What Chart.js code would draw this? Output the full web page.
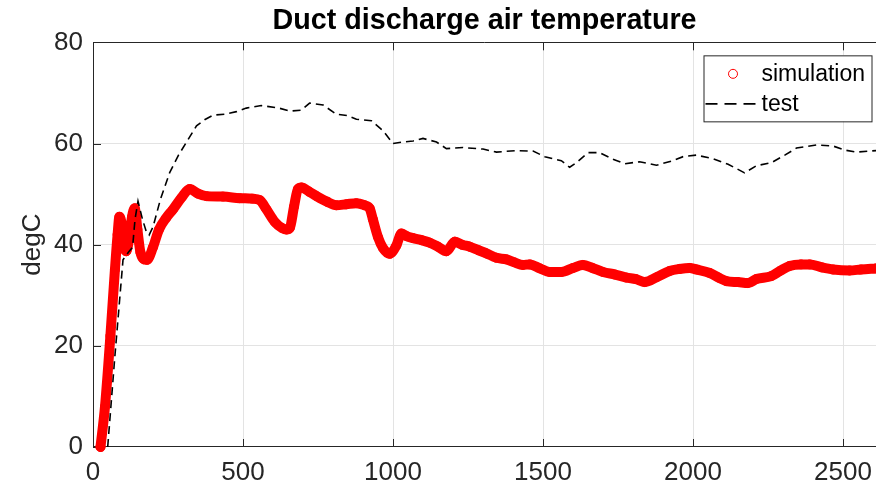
<!DOCTYPE html>
<html>
<head>
<meta charset="utf-8">
<title>Duct discharge air temperature</title>
<script src="https://cdn.jsdelivr.net/npm/chart.js@4.4.1/dist/chart.umd.min.js"></script>
<style>
  html, body { margin: 0; padding: 0; background: #ffffff; }
  #wrap { width: 876px; height: 487px; }
</style>
</head>
<body>
<div id="wrap"><canvas id="ductChart" width="876" height="487"></canvas></div>
<script>
// time in s, temperature in degC
const simTime = [25, 40, 58, 73, 82, 88, 96, 104, 111, 120, 130, 139, 148, 158, 168, 180, 200, 220, 244, 267,
  295, 322, 350, 378, 433, 489, 530, 556, 578, 606, 630, 645, 656, 670, 683, 695, 720, 745, 780, 811,
  845, 878, 905, 922, 933, 950, 967, 989, 1011, 1028, 1045, 1067, 1095, 1122, 1150, 1178, 1206, 1230, 1256, 1285,
  1311, 1345, 1378, 1405, 1433, 1456, 1490, 1522, 1561, 1600, 1633, 1665, 1700, 1740, 1778, 1810, 1839, 1880, 1922, 1955,
  1989, 2011, 2056, 2085, 2111, 2150, 2183, 2211, 2261, 2290, 2322, 2360, 2389, 2430, 2467, 2522, 2560, 2610];
const simTemp = [0, 8, 22, 35, 42, 45.5, 44, 39.5, 38.7, 41, 45.5, 47.2, 43, 38.5, 37.2, 37, 39.5, 43, 45.3, 47,
  49.3, 51, 50.1, 49.6, 49.5, 49.2, 49.1, 48.8, 47, 44.5, 43.3, 43, 43.3, 47.5, 51, 51.3, 50.5, 49.6, 48.5, 47.8,
  48, 48.2, 47.8, 47.2, 45, 41.5, 39.3, 38.2, 39.8, 42.2, 41.7, 41.3, 40.9, 40.4, 39.6, 38.7, 40.6, 40, 39.6, 38.9,
  38.3, 37.4, 37.1, 36.5, 36, 36.1, 35.3, 34.6, 34.6, 35.4, 36, 35.4, 34.6, 34.1, 33.5, 33.2, 32.6, 33.6, 34.8, 35.2,
  35.4, 35.1, 34.4, 33.5, 32.8, 32.6, 32.4, 33.2, 33.8, 34.8, 35.8, 36.1, 36.1, 35.5, 35.1, 34.9, 35.1, 35.3];

const testTime = [49, 73, 100, 118, 132, 140, 150, 165, 178, 187, 200, 225, 256, 285, 311, 345, 372, 400, 440, 478,
  511, 561, 620, 656, 695, 722, 767, 811, 850, 878, 928, 967, 1000, 1033, 1067, 1100, 1145, 1178, 1233, 1300,
  1345, 1411, 1467, 1506, 1561, 1589, 1611, 1650, 1689, 1733, 1772, 1822, 1878, 1933, 1967, 2011, 2067, 2117, 2172, 2211,
  2261, 2306, 2345, 2411, 2467, 2506, 2545, 2610];
const testTemp = [0, 18, 37, 38.5, 39.5, 45, 48.6, 45, 42.5, 41.9, 43.5, 49, 54.3, 57.7, 60.2, 63.5, 64.7, 65.6, 65.8, 66.3,
  67, 67.5, 67, 66.4, 66.6, 68, 67.6, 65.8, 65.5, 64.8, 64.5, 62.5, 60, 60.3, 60.5, 61, 60.3, 59, 59.2, 58.9,
  58.3, 58.6, 58.5, 57.4, 56.6, 55.3, 56.2, 58.2, 58.2, 56.9, 56, 56.4, 55.7, 56.6, 57.4, 57.7, 57, 55.9, 54.2, 55.6,
  56.2, 57.7, 59.1, 59.7, 59.5, 58.7, 58.3, 58.6];

const xTicks = [0, 500, 1000, 1500, 2000, 2500];
const yTicks = [0, 20, 40, 60, 80];
const xMax = 2610;

const FONT = "'Liberation Sans', Arial, Helvetica, sans-serif";
const AXIS = "#262626";

function toPoints(xs, ys) {
  return xs.map((x, i) => ({ x: x, y: ys[i] }));
}

// no extra room around the plot for overhanging tick labels
function noScalePadding(s) {
  s.paddingLeft = 0;
  s.paddingRight = 0;
  s.paddingTop = 0;
  s.paddingBottom = 0;
}

// box outline on top and inward tick marks, like a boxed axes
const boxTicks = {
  id: "boxTicks",
  beforeDatasetsDraw(chart) {
    const { ctx, chartArea: a, scales: { x, y } } = chart;
    ctx.save();
    ctx.strokeStyle = AXIS;
    ctx.lineWidth = 1;
    ctx.beginPath();
    ctx.moveTo(a.left, Math.round(a.top) + 0.5);
    ctx.lineTo(a.right, Math.round(a.top) + 0.5);
    xTicks.forEach(v => {
      const px = Math.round(x.getPixelForValue(v)) + 0.5;
      ctx.moveTo(px, a.bottom);
      ctx.lineTo(px, a.bottom - 8);
      ctx.moveTo(px, a.top);
      ctx.lineTo(px, a.top + 8);
    });
    yTicks.forEach(v => {
      const py = Math.round(y.getPixelForValue(v)) + 0.5;
      ctx.moveTo(a.left, py);
      ctx.lineTo(a.left + 8, py);
    });
    ctx.stroke();
    ctx.restore();
  }
};

// legend box inside the upper right corner
const boxLegend = {
  id: "boxLegend",
  afterDraw(chart) {
    const { ctx, chartArea: a } = chart;
    const sets = chart.data.datasets;
    const left = a.right - 172.5, top = a.top + 13, w = 168, h = 66;
    ctx.save();
    ctx.fillStyle = "#ffffff";
    ctx.fillRect(left, top, w, h);
    ctx.strokeStyle = AXIS;
    ctx.lineWidth = 1;
    ctx.strokeRect(left + 0.5, top + 0.5, w, h);

    const row1 = top + 18.5, row2 = top + 48.5;
    ctx.strokeStyle = sets[0].borderColor;
    ctx.lineWidth = 1;
    ctx.beginPath();
    ctx.arc(left + 29.5, row1, 4.5, 0, Math.PI * 2);
    ctx.stroke();

    ctx.strokeStyle = sets[1].borderColor;
    ctx.lineWidth = 1.6;
    ctx.setLineDash([12, 7]);
    ctx.beginPath();
    ctx.moveTo(left + 2, row2);
    ctx.lineTo(left + 56, row2);
    ctx.stroke();
    ctx.setLineDash([]);

    ctx.fillStyle = "#000000";
    ctx.font = "23px " + FONT;
    ctx.textBaseline = "middle";
    ctx.textAlign = "left";
    ctx.fillText(sets[0].label, left + 58, row1 + 1);
    ctx.fillText(sets[1].label, left + 58, row2 + 1);
    ctx.restore();
  }
};

new Chart(document.getElementById("ductChart"), {
  type: "line",
  data: {
    datasets: [{
      label: "simulation",
      data: toPoints(simTime, simTemp),
      borderColor: "#ff0000",
      borderWidth: 10,
      borderCapStyle: "round",
      borderJoinStyle: "round",
      cubicInterpolationMode: "monotone",
      pointStyle: "circle",
      pointRadius: 4.5,
      pointBorderWidth: 1,
      pointBorderColor: "#ff0000",
      pointBackgroundColor: "rgba(255,0,0,0)",
      clip: 6,
      order: 1
    }, {
      label: "test",
      data: toPoints(testTime, testTemp),
      borderColor: "#000000",
      borderWidth: 1.6,
      borderDash: [8, 5],
      pointRadius: 0,
      tension: 0,
      clip: 3,
      order: 0
    }]
  },
  options: {
    responsive: false,
    animation: false,
    layout: { autoPadding: false, padding: { left: 0, right: 0, top: 0, bottom: 0 } },
    plugins: {
      legend: { display: false },
      tooltip: { enabled: false },
      title: {
        display: true,
        text: "Duct discharge air temperature",
        fullSize: false,
        color: "#000000",
        font: { family: FONT, size: 28.7, weight: "bold" },
        padding: { top: 3.5, bottom: 4.4 }
      }
    },
    scales: {
      x: {
        type: "linear",
        min: 0,
        max: xMax,
        afterBuildTicks: s => { s.ticks = xTicks.map(v => ({ value: v })); },
        afterFit: s => { s.height = 40; noScalePadding(s); },
        ticks: {
          color: AXIS,
          font: { family: FONT, size: 26 },
          padding: 10,
          maxRotation: 0,
          callback: v => String(v)
        },
        grid: { color: "#e3e3e3", drawTicks: false },
        border: { color: AXIS, width: 1 }
      },
      y: {
        min: 0,
        max: 80,
        afterBuildTicks: s => { s.ticks = yTicks.map(v => ({ value: v })); },
        afterFit: s => { s.width = 93; noScalePadding(s); },
        ticks: {
          color: AXIS,
          font: { family: FONT, size: 26 },
          padding: 10,
          callback: v => String(v)
        },
        grid: { color: "#e3e3e3", drawTicks: false },
        border: { color: AXIS, width: 1 },
        title: {
          display: true,
          text: "degC",
          color: AXIS,
          font: { family: FONT, size: 26 },
          padding: { top: 17, bottom: 0 }
        }
      }
    }
  },
  plugins: [boxTicks, boxLegend]
});
</script>
</body>
</html>
